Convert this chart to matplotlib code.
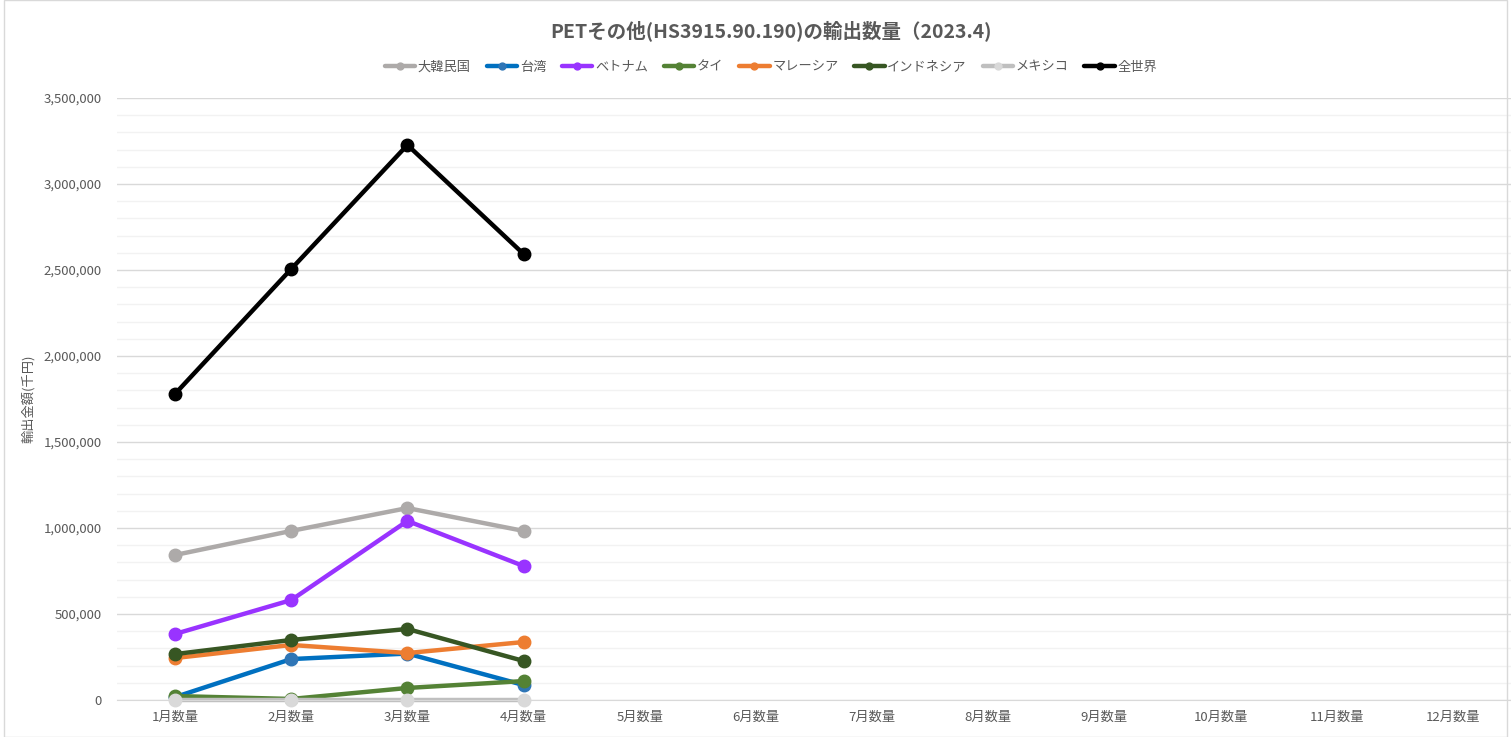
import matplotlib.pyplot as plt
from matplotlib.ticker import FuncFormatter, MultipleLocator
from matplotlib.patches import Rectangle

plt.rcParams['font.family'] = ['Noto Sans CJK JP', 'DejaVu Sans']

# データ
months = ['1月数量', '2月数量', '3月数量', '4月数量', '5月数量', '6月数量',
          '7月数量', '8月数量', '9月数量', '10月数量', '11月数量', '12月数量']
korea = [843000, 983000, 1116000, 983000]
taiwan = [17000, 238000, 270000, 87000]
vietnam = [384000, 581000, 1041000, 779000]
thailand = [23000, 6000, 70000, 110000]
malaysia = [244000, 320000, 273000, 337000]
indonesia = [267000, 349000, 413000, 227000]
mexico = [0, 0, 0, 0]
world = [1780000, 2506000, 3227000, 2593000]

series = [
    ('大韓民国', korea, '#ADAAA9', '#ADAAA9'),
    ('台湾', taiwan, '#0070C0', '#2E75B6'),
    ('ベトナム', vietnam, '#9933FF', '#9933FF'),
    ('タイ', thailand, '#548235', '#548235'),
    ('マレーシア', malaysia, '#ED7D31', '#ED7D31'),
    ('インドネシア', indonesia, '#375623', '#375623'),
    ('メキシコ', mexico, '#BFBFBF', '#D9D9D9'),
    ('全世界', world, '#000000', '#000000'),
]

fig = plt.figure(figsize=(15.11, 7.37), dpi=100)
ax = fig.add_axes([117 / 1511, 37 / 737, 1394 / 1511, 602 / 737])

x = list(range(len(months)))
for name, vals, lc, mc in series:
    ax.plot(x[:len(vals)], vals, color=lc, lw=3.2, marker='o', ms=9,
            mfc=mc, mec=mc, label=name, solid_capstyle='round', clip_on=False)

ax.set_xlim(-0.5, len(months) - 0.5)
ax.set_ylim(0, 3500000)
ax.set_xticks(x)
ax.set_xticklabels(months, fontsize=9.5, color='#595959')
ax.yaxis.set_major_locator(MultipleLocator(500000))
ax.yaxis.set_minor_locator(MultipleLocator(100000))
ax.yaxis.set_major_formatter(FuncFormatter(lambda v, p: f'{int(v):,}'))
ax.tick_params(axis='y', labelsize=9.5, labelcolor='#595959', length=0, which='both', pad=11)
ax.tick_params(axis='x', length=0, pad=8)
ax.grid(axis='y', which='major', color='#D9D9D9', lw=1)
ax.grid(axis='y', which='minor', color='#F2F2F2', lw=1)
ax.set_axisbelow(True)
for s in ['top', 'right', 'left']:
    ax.spines[s].set_visible(False)
ax.spines['bottom'].set_color('#D9D9D9')

ax.set_ylabel('輸出金額(千円)', fontsize=9.5, color='#595959')
ax.yaxis.set_label_coords((35 - 117) / 1394, 0.5)

fig.text(771 / 1511, 1 - 31 / 737, 'PETその他(HS3915.90.190)の輸出数量（2023.4)',
         ha='center', va='center', fontsize=14, fontweight='bold', color='#595959')

fig.legend(loc='center', bbox_to_anchor=(771 / 1511, 1 - 67 / 737), ncol=8, frameon=False,
           fontsize=9.5, labelcolor='#595959', handlelength=2.3, handletextpad=0.2,
           columnspacing=1.2, markerscale=0.55)

fig.patches.append(Rectangle((4 / 1511, 0), 1 - 8 / 1511, 1, transform=fig.transFigure,
                             fill=False, edgecolor='#D9D9D9', lw=1))

fig.savefig('out.png', dpi=100)
